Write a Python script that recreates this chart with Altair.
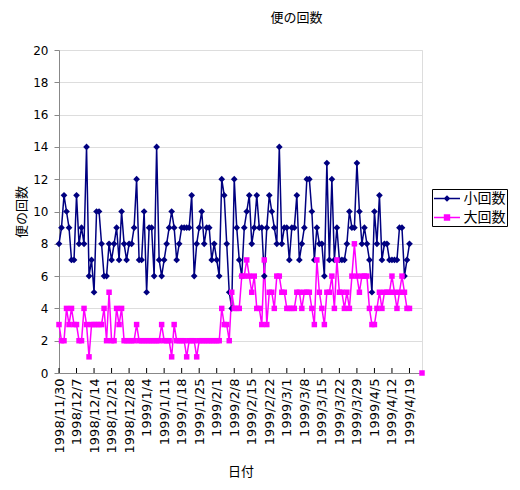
import altair as alt
import pandas as pd

START = "1998-11-30"
SERIES = ["小回数", "大回数"]
COLORS = ["#000080", "#FF00FF"]
CJK = "Noto Sans CJK JP"

# daily values from 1998/11/30 (day 0) to 1999/4/24 (day 145); None = no record
small_counts = [
    8, 9, 11, 10, 9, 7, 7, 11, 8, 9,
    8, 14, 6, 7, 5, 10, 10, 8, 6, 6,
    8, 7, 8, 9, 7, 10, 8, 7, 8, 8,
    9, 12, 7, 7, 10, 5, 9, 9, 6, 14,
    7, 6, 7, 8, 9, 10, 9, 7, 8, 9,
    9, 9, 9, 11, 6, 8, 9, 10, 8, 9,
    9, 7, 8, 7, 6, 12, 11, 8, 5, 4,
    12, 9, 7, 6, 9, 10, 11, 8, 9, 11,
    9, 9, 6, 9, 11, 10, 9, 8, 14, 8,
    9, 9, 7, 9, 9, 11, 7, 8, 9, 12,
    12, 10, 7, 9, 8, 8, 6, 13, 7, 12,
    7, 9, 7, 7, 7, 8, 10, 9, 9, 13,
    10, 8, 9, 8, 7, 5, 10, 8, 11, 7,
    8, 8, 7, 7, 7, 7, 9, 9, 6, 7,
    8, None, None, None, None, None,
]
large_counts = [
    3, 2, 2, 4, 3, 4, 3, 3, 2, 2,
    4, 3, 1, 3, 3, 3, 3, 3, 4, 2,
    5, 2, 2, 4, 3, 4, 2, 2, 2, 2,
    2, 3, 2, 2, 2, 2, 2, 2, 2, 2,
    2, 3, 2, 2, 2, 1, 3, 2, 2, 2,
    2, 1, 2, 2, 2, 1, 2, 2, 2, 2,
    2, 2, 2, 2, 2, 4, 3, 3, 2, 5,
    4, 4, 4, 6, 6, 7, 6, 5, 6, 4,
    4, 3, 7, 3, 5, 5, 4, 6, 6, 5,
    5, 4, 4, 4, 4, 5, 5, 4, 5, 5,
    5, 4, 3, 7, 5, 4, 3, 5, 5, 6,
    4, 7, 5, 5, 4, 5, 4, 6, 8, 6,
    5, 6, 6, 6, 4, 3, 3, 4, 5, 4,
    5, 5, 5, 6, 5, 4, 5, 6, 5, 4,
    4, None, None, None, None, 0,
]

tick_labels = [
    "1998/11/30", "1998/12/7", "1998/12/14", "1998/12/21", "1998/12/28",
    "1999/1/4", "1999/1/11", "1999/1/18", "1999/1/25", "1999/2/1",
    "1999/2/8", "1999/2/15", "1999/2/22", "1999/3/1", "1999/3/8",
    "1999/3/15", "1999/3/22", "1999/3/29", "1999/4/5", "1999/4/12",
    "1999/4/19",
]
tick_days = [7 * i for i in range(len(tick_labels))]
y_ticks = list(range(0, 21, 2))

rows = []
for name, vals in zip(SERIES, [small_counts, large_counts]):
    seg, prev = 0, None
    for day, v in enumerate(vals):
        if v is None:
            continue
        if prev is not None and day - prev > 1:
            seg += 1
        prev = day
        d = pd.Timestamp(START) + pd.Timedelta(days=day)
        rows.append({"day": day, "日付": f"{d.year}/{d.month}/{d.day}",
                     "系列": name, "回数": v, "区間": f"{name}{seg}"})
df = pd.DataFrame(rows)
ticks_df = pd.DataFrame({"day": tick_days})

label_expr = "[" + ",".join(f"'{t}'" for t in tick_labels) + "][round(datum.value / 7)]"

x_enc = alt.X(
    "day:Q",
    scale=alt.Scale(domain=[0, len(small_counts) - 1], nice=False, zero=False),
    axis=alt.Axis(values=tick_days, labelExpr=label_expr, title="日付",
                  labelAngle=-90, labelFont="DejaVu Sans", labelFontSize=13,
                  labelPadding=5, ticks=False, grid=False, labelFlush=False,
                  labelOverlap=False, titleFont=CJK, titleFontSize=13,
                  titleFontWeight="normal", titlePadding=13),
)
y_enc = alt.Y(
    "回数:Q",
    scale=alt.Scale(domain=[0, 20], nice=False),
    axis=alt.Axis(values=y_ticks, title="便の回数", grid=True, tickSize=5,
                  labelPadding=6, labelFont="DejaVu Sans", labelFontSize=12,
                  titleFont=CJK, titleFontSize=13, titleFontWeight="normal",
                  titlePadding=4),
)
color_scale = alt.Scale(domain=SERIES, range=COLORS)

base = alt.Chart(df)

lines = base.mark_line(strokeWidth=1.5).encode(
    x=x_enc, y=y_enc,
    color=alt.Color("系列:N", scale=color_scale, legend=None),
    detail="区間:N",
)
points = base.mark_point(filled=True, opacity=1).encode(
    x=x_enc, y=y_enc,
    color=alt.Color("系列:N", scale=color_scale, legend=None),
    shape=alt.Shape("系列:N", scale=alt.Scale(domain=SERIES, range=["diamond", "square"]), legend=None),
    size=alt.Size("系列:N", scale=alt.Scale(domain=SERIES, range=[45, 30]), legend=None),
)

legend_paths = [
    "M-1.625,-0.08H1.625V0.08H-1.625Z M0,-0.42L0.42,0L0,0.42L-0.42,0Z",
    "M-1.625,-0.08H1.625V0.08H-1.625Z M-0.4,-0.4H0.4V0.4H-0.4Z",
]
leg = alt.Legend(
    title=None, orient="none", legendX=373, legendY=139,
    strokeColor="black", fillColor="white", padding=1.5,
    symbolSize=256, symbolStrokeWidth=0, symbolOffset=5.5, symbolOpacity=1,
    labelFont=CJK, labelFontSize=14, labelColor="black", labelOffset=8.5,
    rowPadding=4,
)
legend_layer = base.transform_filter("datum.day < 0").mark_point(filled=True).encode(
    x=x_enc, y=y_enc,
    color=alt.Color("系列:N", scale=color_scale, legend=leg),
    shape=alt.Shape("系列:N", scale=alt.Scale(domain=SERIES, range=legend_paths), legend=leg),
)

inner_ticks = alt.Chart(ticks_df).mark_rule(color="black", strokeWidth=1).encode(
    x=x_enc, y=alt.value(323), y2=alt.value(318),
)

chart = (
    alt.layer(lines, points, legend_layer, inner_ticks)
    .resolve_scale(color="independent", shape="independent", size="independent")
    .properties(
        width=363, height=323,
        title=alt.TitleParams("便の回数", font=CJK, fontSize=13, fontWeight="normal",
                              color="black", anchor="middle", frame="group",
                              dx=56, offset=19),
        autosize=alt.AutoSizeParams(type="none"),
        padding={"left": 51, "top": 42, "right": 90, "bottom": 109},
    )
    .configure_view(fill="#E6E6E6", stroke="#808080", strokeWidth=1)
    .configure_axis(domainColor="black", tickColor="black", labelColor="black",
                    titleColor="black", gridColor="black", gridOpacity=1,
                    gridWidth=1, domainWidth=1)
    .configure(background="white")
)

chart.save("out.html", embed_options={"renderer": "svg", "actions": False})
